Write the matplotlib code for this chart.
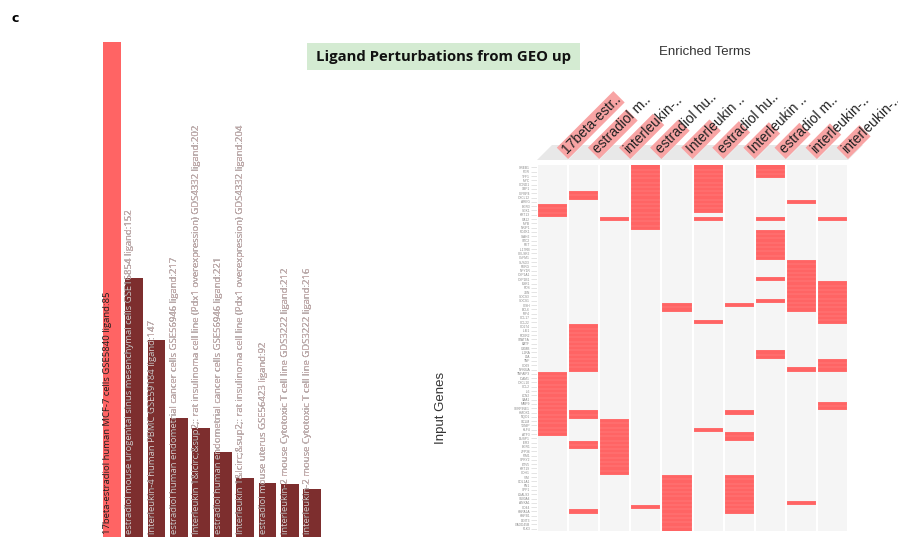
import matplotlib
matplotlib.use("Agg")
import matplotlib.pyplot as plt
import numpy as np
from matplotlib.patches import Rectangle, Polygon
from matplotlib.colors import ListedColormap

W, H = 898, 537

# left panel: ranked ligand perturbation terms
bar_labels = [
    "17beta-estradiol human MCF-7 cells GSE5840 ligand:85",
    "estradiol mouse urogenital sinus mesenchymal cells GSE16854 ligand:152",
    "interleukin-4 human PBMC GSE59184 ligand:147",
    "estradiol human endometrial cancer cells GSE56946 ligand:217",
    "Interleukin 1&lcirc;&sup2;: rat insulinoma cell line (Pdx1 overexpression) GDS4332 ligand:202",
    "estradiol human endometrial cancer cells GSE56946 ligand:221",
    "Interleukin 1&lcirc;&sup2;: rat insulinoma cell line (Pdx1 overexpression) GDS4332 ligand:204",
    "estradiol mouse uterus GSE56423 ligand:92",
    "interleukin-2 mouse Cytotoxic T cell line GDS3222 ligand:212",
    "interleukin-2 mouse Cytotoxic T cell line GDS3222 ligand:216",
]
bar_scores = [100, 52.3, 39.8, 24.0, 22.0, 17.2, 11.9, 10.9, 10.7, 9.7]

# clustergram columns
term_labels = ["17beta-estr..", "estradiol m..", "interleukin-..", "estradiol hu..",
               "Interleukin ..", "estradiol hu..", "Interleukin ..", "estradiol m..",
               "interleukin-..", "interleukin-.."]
term_bar = [1.0, 0.68, 0.60, 0.50, 0.50, 0.47, 0.45, 0.44, 0.43, 0.40]

genes = [
    "GREB1", "PGR", "TFF1", "MYC", "CCND1", "XBP1", "IGFBP4", "CXCL12", "AREG", "EGR3",
    "SGK1", "KRT13", "CA12", "MYB", "NRIP1", "PDZK1", "SIAH2", "STC2", "RET", "IL17RB",
    "CELSR2", "OLFM1", "SUSD3", "RERG", "NPY1R", "CYP1A1", "CYP1B1", "ESR1", "FOS", "JUN",
    "SOCS3", "SOCS1", "CISH", "BCL6", "IRF4", "CCL17", "CCL22", "CD274", "IL4I1", "FCER2",
    "STAT5A", "BATF", "GZMB", "IL2RA", "LTA", "TNF", "CD69", "NFKBIA", "TNFAIP3", "ICAM1",
    "CXCL10", "CCL2", "IL6", "LCN2", "SAA1", "MMP9", "SERPINE1", "HMOX1", "NQO1", "GCLM",
    "TXNIP", "KLF4", "ATF3", "DUSP1", "IER3", "EGR1", "ZFP36", "PIM1", "SPRY2", "ETV5",
    "KRT19", "CDH1", "VIM", "COL1A1", "FN1", "SPP1", "LGALS3", "S100A4", "ANXA1", "CD44",
    "HSPA1A", "HSPB1", "DDIT3", "GADD45B", "PLK3",
]

# gene rows (start, stop) hit by each term
term_hits = [
    [(9, 12), (48, 63)],
    [(6, 8), (37, 48), (57, 59), (64, 66), (80, 81)],
    [(12, 13), (59, 72)],
    [(0, 15), (79, 80)],
    [(32, 34), (72, 85)],
    [(0, 11), (12, 13), (36, 37), (61, 62)],
    [(32, 33), (57, 58), (62, 64), (72, 81)],
    [(0, 3), (12, 13), (15, 22), (26, 27), (31, 32), (43, 45)],
    [(8, 9), (22, 34), (47, 48), (78, 79)],
    [(12, 13), (27, 37), (45, 48), (55, 57)],
]

RED = "#ff6464"
PINK = "#f8a4a4"
MAROON = "#7d2e2e"

fig = plt.figure(figsize=(W / 100, H / 100), dpi=100)


def px_axes(x0, y0, x1, y1):
    return fig.add_axes([x0 / W, 1 - y1 / H, (x1 - x0) / W, (y1 - y0) / H])


# ---- bar chart ----
ax = px_axes(101, 42, 323, 537)
x = np.arange(len(bar_scores))
colors = [RED] + [MAROON] * (len(bar_scores) - 1)
bars = ax.bar(x, bar_scores, width=0.81, color=colors)
ax.set_xlim(-0.5, len(bar_scores) - 0.5)
ax.set_ylim(0, max(bar_scores))
ax.axis("off")
for i, (lab, b) in enumerate(zip(bar_labels, bars)):
    tx = i - 0.4
    ax.text(tx, 0.6, lab, rotation=90, rotation_mode="anchor", ha="left", va="top",
            fontsize=6.8, family="Open Sans", color="#1e1e1e", clip_on=False)
    if i > 0:
        t2 = ax.text(tx, 0.6, lab, rotation=90, rotation_mode="anchor", ha="left",
                     va="top", fontsize=6.8, family="Open Sans", color="#e8cccc")
        t2.set_clip_path(b)

# ---- title box ----
fig.patches.append(Rectangle((307 / W, 1 - 70 / H), 273 / W, 27 / H,
                             transform=fig.transFigure, fc="#d4ebd2", ec="none"))
fig.text(444 / W, 1 - 57 / H, "Ligand Perturbations from GEO up", ha="center",
         va="center", fontsize=10.7, fontweight="bold", family="Open Sans", color="#111111")
fig.text(15 / W, 1 - 18 / H, "c", ha="center", va="center", fontsize=9,
         fontweight="bold", family="DejaVu Sans")

# ---- clustergram ----
mat = np.zeros((len(genes), len(term_labels)))
for j, hits in enumerate(term_hits):
    for a, b in hits:
        mat[a:b, j] = 1

hm = px_axes(537, 165.3, 848, 530.8)
hm.pcolormesh(mat, cmap=ListedColormap(["#f5f5f5", RED]), vmin=0, vmax=1)
hm.hlines(np.arange(1, len(genes)), 0, len(term_labels), color="white", lw=0.3, alpha=0.3)
hm.vlines(np.arange(0, len(term_labels) + 1), 0, len(genes), color="white", lw=1.5)
hm.set_xlim(0, len(term_labels))
hm.set_ylim(len(genes), 0)
hm.set_xticks([])
hm.set_yticks(np.arange(len(genes)) + 0.5)
hm.set_yticklabels(genes, fontsize=2.3, color="#888888", family="Liberation Sans")
hm.tick_params(axis="y", length=4, width=0.4, color="#d0d0d0", pad=1)
for s in hm.spines.values():
    s.set_visible(False)

# column headers, drawn in pixel units above the matrix
hd = px_axes(537, 60, 898, 166)
hd.set_xlim(0, 361)
hd.set_ylim(0, 106)
hd.axis("off")
col_w = 311 / len(term_labels)
s45 = np.sqrt(0.5)
box_w = 16
for j, lab in enumerate(term_labels):
    xl = j * col_w
    xr = xl + col_w
    hd.add_patch(Polygon([(xl, 6), (xr, 6), (xr + 15, 21), (xl + 15, 21)],
                         closed=True, fc="#e8e8e8", ec="none"))
for j, lab in enumerate(term_labels):
    xr = (j + 1) * col_w
    hd.add_patch(Rectangle((xr, 7), 80 * term_bar[j], box_w, angle=45,
                           fc=PINK, ec="none"))
    tx = xr - box_w / 2 * s45 + 3 * s45
    ty = 7 + box_w / 2 * s45 + 3 * s45
    hd.text(tx, ty, lab, rotation=45, rotation_mode="anchor", ha="left", va="center",
            fontsize=10, family="Liberation Sans", color="#222222", clip_on=False)

fig.text(705 / W, 1 - 52 / H, "Enriched Terms", ha="center", va="center",
         fontsize=9.5, family="Liberation Sans", color="#333333")
fig.text(441 / W, 1 - 408 / H, "Input Genes", ha="center", va="center", rotation=90,
         fontsize=9.5, family="Liberation Sans", color="#333333")

fig.savefig("out.png", dpi=100)
